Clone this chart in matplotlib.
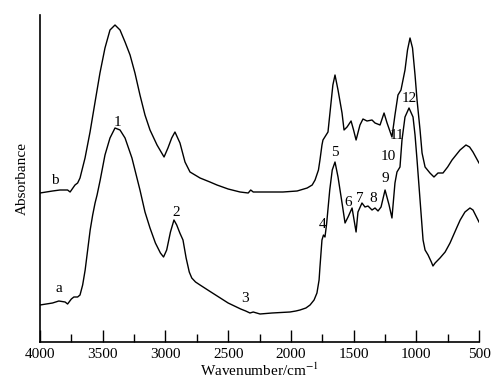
import numpy as np
import matplotlib.pyplot as plt
from matplotlib.ticker import MultipleLocator

plt.rcParams['font.family'] = ['Liberation Serif', 'DejaVu Serif']
plt.rcParams['mathtext.fontset'] = 'stix'

# FTIR spectrum a (lower curve): wavenumber / cm-1 and absorbance (a.u.)
wn_a = [4000, 3900, 3850, 3800, 3780, 3750, 3730, 3700, 3681, 3660, 3640, 3620,
        3600, 3580, 3561, 3545, 3520, 3482, 3442, 3402, 3362, 3322, 3267, 3203,
        3163, 3123, 3080, 3040, 3015, 2990, 2960, 2932, 2910, 2885, 2860, 2835,
        2810, 2790, 2760, 2724, 2650, 2600, 2500, 2400, 2360, 2326, 2300, 2246,
        2150, 2007, 1960, 1927, 1880, 1847, 1815, 1792, 1775, 1768, 1752, 1740,
        1728, 1715, 1690, 1670, 1648, 1624, 1592, 1568, 1544, 1512, 1480, 1465,
        1433, 1409, 1385, 1353, 1329, 1305, 1281, 1249, 1217, 1194, 1170, 1154,
        1130, 1114, 1090, 1058, 1026, 1010, 994, 970, 946, 930, 906, 880,
        867, 850, 811, 770, 731, 675, 650, 612, 572, 548, 500]
abs_a = [0.37, 0.39, 0.41, 0.40, 0.38, 0.43, 0.45, 0.45, 0.47, 0.57, 0.72, 0.92,
         1.12, 1.27, 1.39, 1.47, 1.62, 1.87, 2.04, 2.14, 2.12, 2.04, 1.84, 1.52,
         1.30, 1.14, 0.99, 0.89, 0.85, 0.92, 1.10, 1.22, 1.17, 1.09, 1.02, 0.84,
         0.70, 0.64, 0.60, 0.57, 0.51, 0.47, 0.39, 0.33, 0.31, 0.29, 0.30, 0.28,
         0.29, 0.30, 0.31, 0.32, 0.34, 0.37, 0.42, 0.49, 0.62, 0.75, 1.02, 1.07,
         1.05, 1.18, 1.52, 1.72, 1.80, 1.65, 1.39, 1.19, 1.25, 1.34, 1.10, 1.30,
         1.39, 1.35, 1.36, 1.32, 1.34, 1.31, 1.35, 1.52, 1.37, 1.24, 1.59, 1.70,
         1.75, 2.02, 2.25, 2.34, 2.25, 2.07, 1.82, 1.42, 1.02, 0.92, 0.87, 0.80,
         0.76, 0.79, 0.84, 0.90, 0.99, 1.15, 1.22, 1.30, 1.34, 1.32, 1.20]

# spectrum b (upper curve)
wn_b = [4000, 3900, 3841, 3780, 3760, 3721, 3700, 3681, 3641, 3601, 3561, 3522,
        3482, 3442, 3402, 3362, 3322, 3282, 3243, 3203, 3163, 3123, 3067, 3011,
        2980, 2950, 2924, 2884, 2844, 2804, 2724, 2645, 2589, 2500, 2405, 2340,
        2320, 2300, 2200, 2063, 1950, 1870, 1830, 1807, 1780, 1768, 1752, 1744,
        1704, 1680, 1665, 1648, 1624, 1592, 1576, 1552, 1520, 1500, 1480, 1449,
        1425, 1393, 1353, 1329, 1289, 1257, 1233, 1194, 1170, 1146, 1122, 1090,
        1070, 1050, 1030, 1010, 994, 970, 954, 930, 891, 859, 827, 787,
        750, 715, 651, 604, 575, 548, 500]
abs_b = [1.49, 1.51, 1.52, 1.52, 1.50, 1.57, 1.59, 1.64, 1.84, 2.10, 2.40, 2.69,
         2.94, 3.12, 3.17, 3.12, 3.00, 2.87, 2.69, 2.47, 2.27, 2.12, 1.97, 1.85,
         1.94, 2.04, 2.10, 1.99, 1.80, 1.70, 1.64, 1.60, 1.57, 1.53, 1.50, 1.49,
         1.52, 1.50, 1.50, 1.50, 1.51, 1.54, 1.57, 1.62, 1.72, 1.82, 1.97, 2.02,
         2.10, 2.39, 2.57, 2.67, 2.52, 2.29, 2.12, 2.15, 2.21, 2.12, 2.02, 2.17,
         2.23, 2.21, 2.22, 2.19, 2.17, 2.29, 2.19, 2.05, 2.27, 2.47, 2.52, 2.72,
         2.92, 3.04, 2.94, 2.67, 2.42, 2.12, 1.89, 1.75, 1.69, 1.65, 1.69, 1.69,
         1.75, 1.82, 1.92, 1.97, 1.95, 1.90, 1.79]

# peak numbers and where they are written
peak_labels = ['1', '2', '3', '4', '5', '6', '7', '8', '9', '10', '11', '12']
peak_wn = [3386, 2916, 2366, 1744, 1648, 1544, 1449, 1345, 1249, 1225, 1154, 1058]
peak_abs = [2.20, 1.30, 0.44, 1.17, 1.90, 1.40, 1.44, 1.44, 1.64, 1.85, 2.07, 2.44]

fig = plt.figure(figsize=(5.01, 3.90), dpi=100)
ax = fig.add_axes([40 / 501, 48 / 390, 439 / 501, 327 / 390])

ax.plot(wn_a, abs_a, color='black', lw=1.0)
ax.plot(wn_b, abs_b, color='black', lw=1.0)

for lab, w, a in zip(peak_labels, peak_wn, peak_abs):
    ax.text(w, a, lab, fontsize=11, ha='center', va='center')
ax.text(3849, 0.53, 'a', fontsize=11, ha='center', va='center')
ax.text(3880, 1.62, 'b', fontsize=11, ha='center', va='center')

ax.set_xlim(4000, 500)
ax.set_ylim(0, 3.27)
ax.xaxis.set_major_locator(MultipleLocator(500))
ax.xaxis.set_minor_locator(MultipleLocator(250))
ax.tick_params(axis='x', which='major', direction='in', length=8.8, width=1,
               labelsize=11, pad=4)
ax.tick_params(axis='x', which='minor', direction='in', length=6, width=1)
ax.set_yticks([])
for s in ['top', 'right']:
    ax.spines[s].set_visible(False)
for s in ['left', 'bottom']:
    ax.spines[s].set_linewidth(1.2)

ax.set_xlabel('Wavenumber/cm$^{-1}$', fontsize=11, labelpad=1)
ax.set_ylabel('Absorbance', fontsize=11, labelpad=8)

fig.savefig('out.png', dpi=100)
